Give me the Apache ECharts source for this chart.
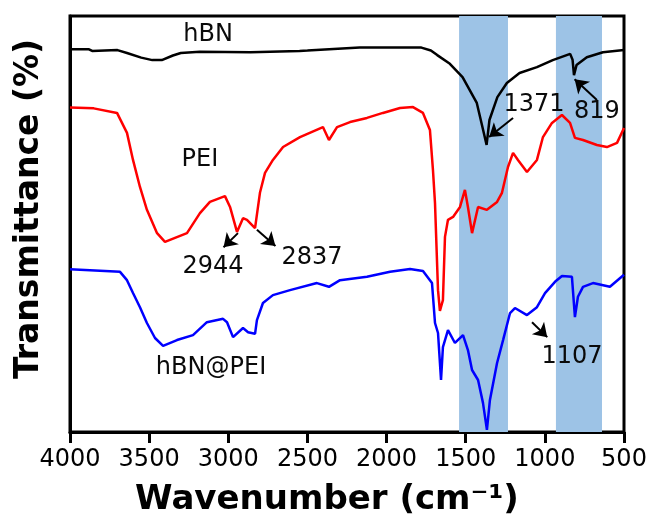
<!DOCTYPE html>
<html>
<head>
  <meta charset="UTF-8">
  <title>FTIR hBN / PEI / hBN@PEI</title>
  <script src="https://cdn.jsdelivr.net/npm/echarts@6/dist/echarts.min.js"></script>
  <style>
    html, body { margin: 0; padding: 0; background: #fff; }
    #chart { width: 652px; height: 526px; }
  </style>
</head>
<body>
  <div id="chart"></div>
  <script type="text/javascript">
    // wavenumber (cm-1) and transmittance (offset, a.u.)
    var hbnWn = [4000,3880,3860,3850,3700,3640,3550,3480,3420,3350,3300,3180,2860,2550,2500,2170,1780,1720,1680,1600,1520,1430,1390,1368,1350,1300,1240,1160,1050,950,840,825,816,800,735,633,500];
    var hbnT = [92.0,92.0,91.6,92.0,91.8,91.1,90.0,89.4,89.4,90.5,91.1,91.4,91.3,91.6,91.7,92.4,92.4,91.7,90.6,88.5,85.3,79.1,72.6,69.0,75.0,80.5,83.9,86.3,87.7,89.4,90.9,89.5,85.8,88.2,90.1,91.3,91.8];

    var peiWn = [4000,3850,3703,3640,3602,3558,3514,3450,3400,3261,3179,3116,3021,2989,2945,2907,2882,2831,2800,2768,2718,2654,2547,2402,2364,2313,2231,2124,2023,1915,1833,1770,1726,1707,1694,1675,1663,1644,1631,1612,1580,1536,1505,1486,1460,1422,1366,1302,1271,1233,1201,1170,1113,1050,1012,955,892,841,810,759,671,608,544,500];
    var peiT = [78.0,77.8,76.7,71.9,65.4,58.9,53.4,47.8,45.7,47.8,52.6,55.3,56.7,54.1,48.1,51.4,51.0,49.0,57.5,62.3,65.4,68.5,70.9,73.3,70.2,73.3,74.5,75.5,76.7,77.9,78.1,76.7,72.6,63.0,55.0,34.1,29.1,31.7,46.9,51.0,51.7,54.1,58.2,54.1,47.8,54.1,53.4,55.3,57.5,63.7,67.1,65.4,62.5,65.4,70.9,74.3,76.2,74.3,70.7,70.2,69.0,68.5,69.5,73.1];

    var blendWn = [4000,3684,3640,3602,3558,3514,3463,3412,3324,3223,3135,3033,3008,2970,2907,2875,2831,2819,2781,2718,2610,2440,2364,2294,2124,1978,1852,1770,1713,1694,1675,1656,1644,1612,1568,1517,1486,1460,1422,1391,1366,1347,1302,1264,1220,1189,1113,1050,999,936,892,829,810,791,759,696,589,500];
    var blendT = [39.1,38.5,36.5,33.4,30.0,26.2,22.6,20.7,22.1,23.3,26.4,27.2,26.4,22.8,25.0,24.0,23.6,26.9,31.0,32.9,34.1,35.8,34.9,36.5,37.3,38.5,39.2,38.7,35.8,26.2,23.8,12.5,20.4,24.5,21.4,23.3,19.7,14.9,12.5,7.0,0.5,7.7,16.6,22.1,28.6,29.8,28.1,30.0,33.4,36.1,37.5,37.3,27.6,32.5,34.9,35.8,34.9,37.8];

    // shaded bands
    var bandFrom = [1542, 930];
    var bandTo = [1233, 639];

    // text annotations
    var noteText = ['hBN', 'PEI', 'hBN@PEI', '2944', '2837', '1371', '819', '1107'];
    var noteWn = [3128, 3179, 3109, 3097, 2471, 1069, 671, 829];
    var noteT = [95.4, 65.4, 15.4, 39.7, 41.8, 78.6, 76.9, 18.0];

    // arrows (start -> arrow head)
    var arrowFromWn = [2939, 2819, 1201, 671, 1081];
    var arrowFromT = [47.8, 48.6, 75.5, 79.8, 26.4];
    var arrowToWn = [3030, 2702, 1352, 812, 985];
    var arrowToT = [44.4, 44.7, 70.9, 84.8, 22.8];

    var xTicks = { min: 500, max: 4000, interval: 500 };

    function pairs(xs, ys) {
      return xs.map(function (x, i) { return [x, ys[i]]; });
    }

    var chart = echarts.init(document.getElementById('chart'), null, { renderer: 'canvas' });

    var option = {
      animation: false,
      backgroundColor: '#fff',
      grid: {
        left: 70, right: 28, top: 16, bottom: 94,
        show: true, borderColor: '#000', borderWidth: 3
      },
      xAxis: {
        type: 'value',
        inverse: true,
        min: xTicks.min,
        max: xTicks.max,
        interval: xTicks.interval,
        splitLine: { show: false },
        axisLine: { lineStyle: { color: '#000', width: 3 } },
        axisTick: { inside: false, length: 11, lineStyle: { color: '#000', width: 3 } },
        axisLabel: {
          color: '#000', fontSize: 24, fontFamily: 'DejaVu Sans', margin: 16,
          formatter: function (v) { return String(v); }
        }
      },
      yAxis: {
        type: 'value',
        min: 0,
        max: 100,
        splitLine: { show: false },
        axisLine: { show: true, lineStyle: { color: '#000', width: 3 } },
        axisTick: { show: false },
        axisLabel: { show: false }
      },
      graphic: [
        {
          type: 'text', x: 29, y: 209, rotation: Math.PI / 2,
          style: {
            text: 'Transmittance (%)', x: 0, y: 0,
            fontSize: 33, fontWeight: 'bold', fontFamily: 'DejaVu Sans',
            fill: '#000', align: 'center', verticalAlign: 'middle'
          }
        },
        {
          type: 'text', x: 327, y: 500,
          style: {
            text: 'Wavenumber (cm⁻¹)', x: 0, y: 0,
            fontSize: 34, fontWeight: 'bold', fontFamily: 'DejaVu Sans',
            fill: '#000', align: 'center', verticalAlign: 'middle'
          }
        }
      ],
      series: [
        {
          name: 'bands', type: 'line', data: [], z: 1,
          markArea: {
            silent: true,
            itemStyle: { color: '#9dc3e6' },
            data: bandFrom.map(function (f, i) {
              return [{ xAxis: f }, { xAxis: bandTo[i] }];
            })
          }
        },
        {
          name: 'hBN', type: 'line', z: 2, showSymbol: false,
          lineStyle: { color: '#000', width: 2.5 },
          data: pairs(hbnWn, hbnT)
        },
        {
          name: 'PEI', type: 'line', z: 2, showSymbol: false,
          lineStyle: { color: '#ff0000', width: 2.5 },
          data: pairs(peiWn, peiT)
        },
        {
          name: 'hBN@PEI', type: 'line', z: 2, showSymbol: false,
          lineStyle: { color: '#0000ff', width: 2.5 },
          data: pairs(blendWn, blendT)
        },
        {
          name: 'notes', type: 'line', data: [], z: 3,
          markPoint: {
            symbol: 'circle', symbolSize: 0, silent: true,
            label: {
              show: true, position: 'inside', color: '#0a0a0a',
              fontSize: 24, fontFamily: 'DejaVu Sans',
              formatter: function (p) { return p.name; }
            },
            data: noteText.map(function (t, i) {
              return { name: t, coord: [noteWn[i], noteT[i]] };
            })
          },
          markLine: {
            silent: true,
            symbol: ['none', 'arrow'],
            symbolSize: 13,
            label: { show: false },
            lineStyle: { color: '#000', width: 2, type: 'solid' },
            data: arrowFromWn.map(function (w, i) {
              return [{ coord: [w, arrowFromT[i]] }, { coord: [arrowToWn[i], arrowToT[i]] }];
            })
          }
        }
      ]
    };

    chart.setOption(option);
  </script>
</body>
</html>
